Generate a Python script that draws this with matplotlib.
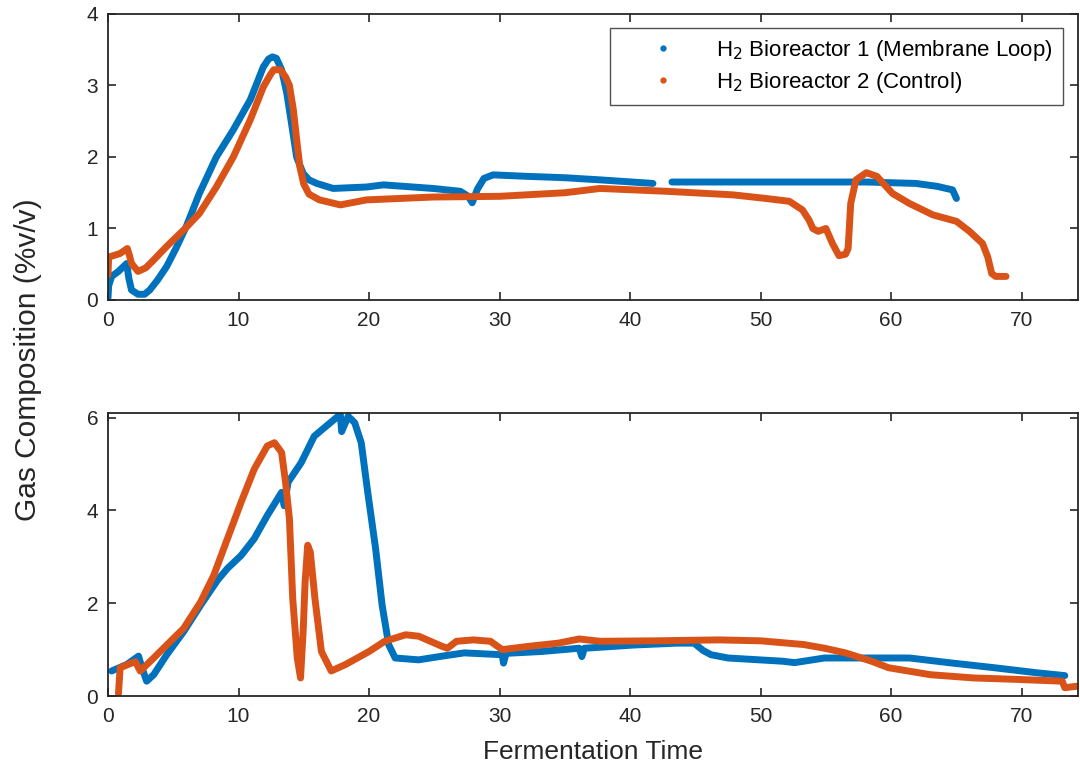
import matplotlib
matplotlib.use('Agg')
import matplotlib.pyplot as plt
from matplotlib.lines import Line2D

plt.rcParams['font.family'] = ['Liberation Sans', 'DejaVu Sans']

BLUE = '#0072BD'
ORANGE = '#D95319'

# ── top panel: bioreactor 1 (membrane loop) ──────────────────────────────
top_b1_t = [0.0, 0.05, 0.28, 0.8, 1.43, 1.6, 1.8, 2.3, 2.8, 3.2, 3.8, 4.5, 5.2,
            6.0, 7.0, 8.3, 9.6, 10.9, 11.9, 12.3, 12.6, 12.9, 13.3, 13.7, 14.1,
            14.45, 14.95, 15.4, 16.0, 17.25, 19.8, 21.1, 24.9, 27.0, 27.6, 27.9,
            28.3, 28.8, 29.5, 32.0, 35.0, 37.7, 41.75]
top_b1_h2 = [0.03, 0.2, 0.33, 0.40, 0.51, 0.30, 0.14, 0.08, 0.08, 0.14, 0.28,
             0.47, 0.72, 1.03, 1.49, 2.0, 2.38, 2.8, 3.26, 3.37, 3.40, 3.38,
             3.22, 2.89, 2.42, 2.0, 1.77, 1.68, 1.63, 1.56, 1.58, 1.61, 1.56,
             1.52, 1.45, 1.36, 1.55, 1.70, 1.75, 1.73, 1.71, 1.68, 1.63]
top_b1_t2 = [43.2, 50.4, 58.1, 61.9, 63.5, 64.7, 65.0]
top_b1_h2b = [1.65, 1.65, 1.65, 1.63, 1.59, 1.54, 1.42]

# ── top panel: bioreactor 2 (control) ────────────────────────────────────
top_b2_t = [0.0, 0.05, 0.92, 1.48, 1.65, 1.8, 2.3, 2.9, 3.5, 4.5, 5.8, 7.0, 8.3,
            9.6, 10.9, 11.9, 12.4, 12.7, 13.2, 13.6, 13.9, 14.2, 14.45, 14.7,
            15.0, 15.4, 16.2, 17.8, 19.8, 24.9, 30.0, 35.0, 37.7, 42.8, 47.9,
            50.4, 52.2, 53.2, 53.7, 54.0, 54.4, 55.0, 55.5, 56.0, 56.5, 56.7,
            56.9, 57.3, 58.1, 58.9, 60.1, 61.4, 63.2, 65.0, 66.0, 67.0, 67.4,
            67.7, 68.0, 68.8]
top_b2_h2 = [0.35, 0.6, 0.65, 0.72, 0.62, 0.51, 0.40, 0.45, 0.56, 0.75, 0.98,
             1.21, 1.58, 2.0, 2.52, 2.98, 3.14, 3.22, 3.22, 3.12, 3.0, 2.66,
             2.25, 1.86, 1.62, 1.48, 1.40, 1.33, 1.40, 1.44, 1.45, 1.50, 1.56,
             1.52, 1.47, 1.42, 1.38, 1.26, 1.12, 1.0, 0.96, 1.0, 0.79, 0.62,
             0.64, 0.72, 1.35, 1.68, 1.78, 1.73, 1.49, 1.35, 1.19, 1.10, 0.96,
             0.79, 0.6, 0.37, 0.33, 0.33]

# ── bottom panel: bioreactor 1 ───────────────────────────────────────────
bot_b1_t = [0.28, 1.44, 2.34, 2.6, 2.96, 3.5, 4.5, 5.8, 7.1, 8.4, 9.15, 10.2,
            11.2, 12.2, 13.3, 13.5, 13.8, 14.8, 15.8, 16.9, 17.8, 17.9, 18.4,
            18.9, 19.4, 19.9, 20.5, 21.0, 21.5, 22.0, 23.8, 25.6, 27.3, 30.2,
            30.3, 30.5, 33.2, 36.1, 36.3, 36.5, 38.7, 40.3, 43.6, 44.9, 45.6,
            46.2, 47.5, 51.7, 52.6, 54.9, 58.2, 61.4, 64.7, 67.9, 71.2, 73.3]
bot_b1_h2 = [0.54, 0.68, 0.86, 0.61, 0.32, 0.46, 0.89, 1.39, 1.96, 2.5, 2.75,
             3.03, 3.39, 3.89, 4.39, 4.1, 4.61, 5.03, 5.6, 5.86, 6.07, 5.7,
             6.03, 5.89, 5.46, 4.39, 3.18, 1.96, 1.11, 0.82, 0.78, 0.86, 0.93,
             0.89, 0.71, 0.92, 0.96, 1.03, 0.85, 1.03, 1.07, 1.1, 1.14, 1.14,
             0.98, 0.89, 0.82, 0.75, 0.72, 0.82, 0.82, 0.82, 0.71, 0.61, 0.5,
             0.44]

# ── bottom panel: bioreactor 2 ───────────────────────────────────────────
bot_b2_t = [0.8, 0.93, 1.8, 2.1, 2.47, 3.5, 4.5, 5.8, 7.1, 8.1, 9.15, 10.2, 11.2,
            12.2, 12.75, 13.3, 13.6, 13.9, 14.15, 14.5, 14.75, 14.95, 15.1, 15.3,
            15.5, 15.85, 16.35, 17.1, 18.2, 20.0, 21.2, 22.8, 23.8, 25.6, 26.0,
            26.7, 28.0, 29.3, 30.2, 32.2, 34.5, 36.1, 37.7, 41.9, 46.8, 50.0,
            53.3, 54.9, 56.5, 58.5, 59.8, 63.0, 66.3, 69.5, 73.1, 73.3, 74.2]
bot_b2_h2 = [0.05, 0.61, 0.71, 0.74, 0.54, 0.82, 1.1, 1.46, 2.03, 2.6, 3.39, 4.18,
             4.89, 5.39, 5.46, 5.25, 4.61, 3.82, 2.11, 0.82, 0.39, 1.39, 2.46,
             3.25, 3.1, 2.11, 0.96, 0.54, 0.68, 0.96, 1.18, 1.32, 1.29, 1.07,
             1.03, 1.18, 1.21, 1.18, 1.0, 1.07, 1.14, 1.23, 1.18, 1.19, 1.21,
             1.19, 1.11, 1.03, 0.93, 0.75, 0.61, 0.46, 0.39, 0.36, 0.32, 0.18,
             0.21]

LW = 5

fig = plt.figure(figsize=(10.8, 7.72), dpi=100)
ax1 = fig.add_axes([0.1, 0.6114, 0.898, 0.3705])
ax2 = fig.add_axes([0.1, 0.0984, 0.898, 0.3666])

kw = dict(linewidth=LW, solid_capstyle='round', solid_joinstyle='round')
ax1.plot(top_b1_t, top_b1_h2, color=BLUE, **kw)
ax1.plot(top_b1_t2, top_b1_h2b, color=BLUE, **kw)
ax1.plot(top_b2_t, top_b2_h2, color=ORANGE, **kw)
ax2.plot(bot_b1_t, bot_b1_h2, color=BLUE, **kw)
ax2.plot(bot_b2_t, bot_b2_h2, color=ORANGE, **kw)

ax1.set_xlim(0, 74.3)
ax1.set_ylim(0, 4)
ax1.set_yticks([0, 1, 2, 3, 4])
ax2.set_xlim(0, 74.3)
ax2.set_ylim(0, 6.1)
ax2.set_yticks([0, 2, 4, 6])

for ax in (ax1, ax2):
    ax.set_xticks(range(0, 71, 10))
    ax.tick_params(direction='in', top=True, right=True, length=6, width=1.2,
                   labelsize=15, colors='#262626')
    ax.tick_params(axis='x', pad=8)
    ax.tick_params(axis='y', pad=7)
    for s in ax.spines.values():
        s.set_linewidth(1.3)
        s.set_color('#262626')

ax2.set_xlabel('Fermentation Time', fontsize=19, color='#262626', labelpad=10)
fig.text(0.026, 0.534, 'Gas Composition (%v/v)', rotation=90, fontsize=21.5,
         color='#262626', ha='center', va='center',
         family=['Liberation Sans Narrow', 'Liberation Sans', 'DejaVu Sans'])

handles = [
    Line2D([], [], color=BLUE, marker='.', linestyle='none', markersize=7),
    Line2D([], [], color=ORANGE, marker='.', linestyle='none', markersize=7),
]
labels = ['H$_2$ Bioreactor 1 (Membrane Loop)', 'H$_2$ Bioreactor 2 (Control)']
leg = ax1.legend(handles, labels, loc='upper right', bbox_to_anchor=(0.9845, 0.951),
                 borderaxespad=0, fontsize=16, frameon=True, fancybox=False,
                 borderpad=0.45, handletextpad=0.45, handlelength=3.9,
                 labelspacing=0.3)
leg.get_frame().set_edgecolor('#262626')
leg.get_frame().set_linewidth(1.0)

fig.savefig('out.png', dpi=100)
